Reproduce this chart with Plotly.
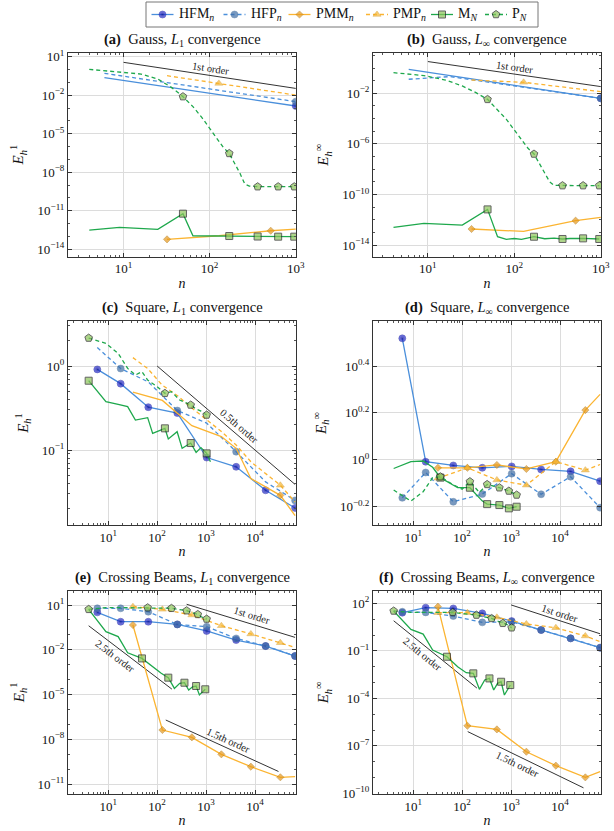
import math

import plotly.graph_objects as go
from plotly.subplots import make_subplots

# Problem sizes n and log10 of the error E_h.
hf_n = [6, 18, 66, 258, 1026, 4098, 16386, 65538]
pm_n = [32, 128, 512, 2048, 8192, 32768, 65536]
all6 = [0, 1, 2, 3, 4, 5]

# (a) Gauss, L1
a_ref_n = [10, 1000]
a_ref_lg = [0.56, -1.47]
a_hfm_n = [6, 1000]
a_hfm_lg = [-0.635, -2.84]
a_hfp_n = [6, 1000]
a_hfp_lg = [-0.30, -2.50]
a_pmm_n = [32, 128, 512, 1000]
a_pmm_lg = [-13.22, -12.94, -12.55, -12.42]
a_pmp_n = [32, 128, 1000]
a_pmp_lg = [-0.48, -1.08, -1.99]
a_m_n = [4, 9, 25, 49, 64, 169, 361, 625, 961]
a_m_lg = [-12.50, -12.29, -12.44, -11.22, -12.94, -12.96, -13.00, -13.01, -13.01]
a_p_n = [4, 9, 16, 25, 36, 49, 64, 81, 100, 121, 144, 169, 196, 225, 256, 289, 361, 625, 961]
a_p_lg = [0.01, -0.17, -0.35, -0.74, -1.39, -2.11, -2.89, -3.72, -4.58, -5.36,
          -6.06, -6.53, -7.30, -8.08, -8.91, -9.07, -9.12, -9.12, -9.12]

# (b) Gauss, Linf
b_ref_n = [10, 1000]
b_ref_lg = [0.51, -1.47]
b_hfm_n = [6, 1000]
b_hfm_lg = [-0.10, -2.40]
b_hfp_n = [6, 18, 1000]
b_hfp_lg = [-0.89, -0.68, -2.40]
b_pmm_n = [32, 128, 512, 1000]
b_pmm_lg = [-12.73, -12.92, -12.07, -11.81]
b_pmp_n = [32, 128, 1000]
b_pmp_lg = [-0.95, -1.13, -1.87]
b_m_n = [4, 9, 25, 49, 64, 81, 100, 121, 169, 225, 289, 361, 441, 625, 961]
b_m_lg = [-12.60, -12.28, -12.42, -11.18, -13.34, -13.55, -13.48, -13.55, -13.34,
          -13.50, -13.45, -13.52, -13.48, -13.47, -13.52]
b_p_n = a_p_n
b_p_lg = [-0.37, -0.60, -0.95, -1.42, -1.95, -2.48, -3.32, -4.06, -4.90, -5.69,
          -6.35, -6.80, -7.54, -8.33, -8.99, -9.28, -9.30, -9.30, -9.30]

# (c) Square, L1
c_ref_n = [100, 65536]
c_ref_lg = [0.0, -1.41]
c_hfm_lg = [-0.04, -0.21, -0.49, -0.56, -1.09, -1.20, -1.48, -1.69]
c_hfp_lg = [0.22, -0.03, -0.19, -0.53, -0.68, -1.02, -1.38, -1.60]
c_pmm_n = [32, 128, 512, 2048, 4096, 8192, 32768, 65536]
c_pmm_lg = [-0.31, -0.41, -0.71, -0.84, -0.98, -1.34, -1.54, -1.78]
c_pmp_n = [32, 64, 128, 256, 512, 2048, 4096, 8192, 32768, 65536]
c_pmp_lg = [0.10, -0.03, -0.23, -0.35, -0.50, -0.78, -0.94, -1.14, -1.42, -1.62]
c_m_n = [4, 9, 16, 25, 36, 64, 81, 144, 169, 256, 324, 484, 625, 784, 1024, 1225]
c_m_lg = [-0.175, -0.425, -0.456, -0.484, -0.643, -0.615, -0.802, -0.742, -0.869,
          -0.782, -0.980, -0.917, -1.028, -0.972, -1.040, -1.139]
c_p_n = [4, 9, 16, 25, 36, 49, 64, 100, 144, 196, 289, 484, 625, 784, 1024]
c_p_lg = [0.333, 0.27, 0.151, -0.028, -0.107, -0.067, -0.167, -0.246, -0.325,
          -0.306, -0.405, -0.464, -0.512, -0.536, -0.583]

# (d) Square, Linf
d_hfm_lg = [0.518, -0.008, -0.024, -0.034, -0.028, -0.041, -0.049, -0.091]
d_hfp_lg = [-0.162, -0.054, -0.179, -0.146, -0.059, -0.147, -0.072, -0.204]
d_pmm_lg = [-0.034, -0.034, -0.022, -0.039, -0.008, 0.212, 0.279]
d_pmp_lg = [-0.079, -0.034, -0.086, -0.108, -0.008, -0.044, -0.020]
d_m_n = [4, 9, 16, 25, 36, 49, 81, 144, 256, 324, 576, 900, 1296]
d_m_lg = [-0.037, -0.008, -0.005, -0.032, -0.076, -0.093, -0.119, -0.119, -0.175,
          -0.189, -0.193, -0.207, -0.200]
d_p_n = [4, 9, 16, 25, 36, 64, 100, 144, 225, 324, 576, 900, 1296]
d_p_lg = [-0.129, -0.176, -0.136, -0.076, -0.072, -0.105, -0.125, -0.093, -0.139,
          -0.105, -0.119, -0.133, -0.150]

# (e) Crossing beams, L1
e_r1_n = [400, 65536]
e_r1_lg = [1.05, -1.17]
e_r2_n = [4, 200]
e_r2_lg = [-0.39, -4.64]
e_r3_n = [150, 30000]
e_r3_lg = [-6.71, -10.16]
e_hfm_lg = [0.51, -0.12, -0.12, -0.30, -0.74, -1.35, -1.75, -2.42]
e_hfp_lg = [0.78, 0.78, 0.55, -0.30, -0.45, -1.24, -1.75, -2.42]
e_pmm_lg = [-0.34, -7.38, -7.87, -9.01, -9.84, -10.55, -10.51]
e_pmp_lg = [0.89, 0.71, 0.33, -0.39, -0.94, -1.53, -1.84]
e_m_n = [4, 9, 16, 25, 49, 81, 121, 169, 225, 289, 361, 441, 529, 625, 729, 961]
e_m_lg = [0.71, -0.79, -1.12, -2.20, -2.58, -3.13, -3.58, -3.87, -4.59, -4.25,
          -4.21, -4.70, -4.48, -4.43, -5.03, -4.65]
e_p_n = [4, 9, 25, 64, 196, 400, 676, 784, 1024]
e_p_lg = [0.71, 0.82, 0.82, 0.82, 0.78, 0.62, 0.37, 0.22, 0.06]

# (f) Crossing beams, Linf
f_r1_n = [1000, 65536]
f_r1_lg = [1.90, 0.08]
f_r2_n = [4, 200]
f_r2_lg = [0.90, -3.35]
f_r3_n = [130, 30000]
f_r3_lg = [-6.10, -9.65]
f_hfm_lg = [1.41, 1.73, 1.68, 1.37, 0.88, 0.32, -0.21, -0.80]
f_hfp_lg = [1.47, 1.43, 1.20, 0.80, 0.83, 0.32, -0.21, -0.80]
f_pmm_lg = [1.79, -5.73, -5.96, -7.37, -8.25, -8.99, -8.63]
f_pmp_lg = [1.41, 1.41, 1.12, 0.70, 0.46, -0.06, -0.42]
f_m_lg = [1.52, 0.36, 0.06, -0.95, -1.37, -2.00, -2.38, -2.42, -3.43, -2.84,
          -2.74, -3.47, -3.05, -2.95, -3.79, -3.16]
f_p_lg = [1.52, 1.43, 1.43, 1.43, 1.26, 1.05, 0.74, 0.70, 0.46]

FONT = "Liberation Serif"
W, H = 614, 831
BLUE, ORANGE, GREEN = "#4a8fdb", "#fbb431", "#1ea84c"
LIGHT_GREEN = "#8dc45a"
DASH = "4px,3px"

STYLE = {
    "hfm": dict(name="HFM<sub><i>n</i></sub>", color=BLUE, dash="solid",
                marker=dict(symbol="circle", size=7, color="#3a44e6",
                            gradient=dict(type="radial", color="#00008c"),
                            line=dict(color="#000080", width=0.5))),
    "hfp": dict(name="HFP<sub><i>n</i></sub>", color=BLUE, dash=DASH,
                marker=dict(symbol="circle", size=7, color="#3f6ea6",
                            line=dict(color="#36608f", width=0.5))),
    "pmm": dict(name="PMM<sub><i>n</i></sub>", color=ORANGE, dash="solid",
                marker=dict(symbol="diamond", size=5.5, color="#e89a1c",
                            line=dict(color="#a86f0c", width=0.6))),
    "pmp": dict(name="PMP<sub><i>n</i></sub>", color=ORANGE, dash=DASH,
                marker=dict(symbol="triangle-up", size=7, color="#f7b733",
                            line=dict(color="#c98d18", width=0.5))),
    "m": dict(name="M<sub><i>N</i></sub>", color=GREEN, dash="solid",
              marker=dict(symbol="square", size=7, color=LIGHT_GREEN,
                          line=dict(color="#222", width=1))),
    "p": dict(name="P<sub><i>N</i></sub>", color=GREEN, dash=DASH,
              marker=dict(symbol="pentagon", size=8, color=LIGHT_GREEN,
                          line=dict(color="#222", width=1))),
}
ORDER = ["hfm", "hfp", "pmm", "pmp", "m", "p"]

XDOM = [[68 / W, 296 / W], [373 / W, 601 / W]]
YDOM = [[1 - 256.7 / H, 1 - 52.7 / H], [1 - 525 / H, 1 - 321 / H], [1 - 794 / H, 1 - 590.7 / H]]

fig = make_subplots(rows=3, cols=2)


def add_series(row, col, key, n, lg, marks):
    st = STYLE[key]
    m = st["marker"]
    sizes = [m["size"] if i in marks else 0 for i in range(len(n))]
    widths = [m["line"]["width"] if i in marks else 0 for i in range(len(n))]
    marker = dict(m)
    marker["size"] = sizes
    marker["line"] = dict(color=m["line"]["color"], width=widths)
    fig.add_trace(go.Scatter(
        x=n, y=[10 ** v for v in lg], mode="lines+markers",
        line=dict(color=st["color"], width=1.3, dash=st["dash"]),
        marker=marker, showlegend=False, hoverinfo="skip"), row=row, col=col)


def add_ref(row, col, n, lg):
    fig.add_trace(go.Scatter(
        x=n, y=[10 ** v for v in lg], mode="lines",
        line=dict(color="#333", width=1), showlegend=False, hoverinfo="skip"),
        row=row, col=col)


def ref_label(row, col, n, lg, text, t, d, xr, yr):
    axn = (row - 1) * 2 + col
    kx = (XDOM[col - 1][1] - XDOM[col - 1][0]) * W / (xr[1] - xr[0])
    ky = (YDOM[row - 1][1] - YDOM[row - 1][0]) * H / (yr[1] - yr[0])
    x0, x1 = math.log10(n[0]), math.log10(n[1])
    slope = (lg[1] - lg[0]) / (x1 - x0)
    th = math.atan(-slope * ky / kx)
    ref = "" if axn == 1 else str(axn)
    fig.add_annotation(
        x=x0 + t * (x1 - x0), y=lg[0] + t * (lg[1] - lg[0]),
        xref="x" + ref, yref="y" + ref, text=text, showarrow=False,
        textangle=math.degrees(th), xshift=d * math.sin(th), yshift=d * math.cos(th),
        font=dict(family=FONT, size=10.5, color="#222"))


def sup(v):
    s = ("%g" % v).replace("-", "\u2212")
    return "10<sup>" + s + "</sup>"


PANELS = [
    # row, col, title, ylabel, xrange, yrange, ytick exps
    (1, 1, "<b>(a)</b>  Gauss, <i>L</i><sub>1</sub> convergence", "1",
     [0.355, 3.003], [-14.57, 1.31], [1, -2, -5, -8, -11, -14]),
    (1, 2, "<b>(b)</b>  Gauss, <i>L</i><sub>\u221e</sub> convergence", "\u221e",
     [0.365, 3.003], [-14.92, 1.21], [-2, -6, -10, -14]),
    (2, 1, "<b>(c)</b>  Square, <i>L</i><sub>1</sub> convergence", "1",
     [0.18, 4.835], [-1.893, 0.536], [0, -1]),
    (2, 2, "<b>(d)</b>  Square, <i>L</i><sub>\u221e</sub> convergence", "\u221e",
     [0.18, 4.835], [-0.278, 0.592], [0.4, 0.2, 0, -0.2]),
    (3, 1, "<b>(e)</b>  Crossing Beams, <i>L</i><sub>1</sub> convergence", "1",
     [0.18, 4.835], [-11.67, 1.96], [1, -2, -5, -8, -11]),
    (3, 2, "<b>(f)</b>  Crossing Beams, <i>L</i><sub>\u221e</sub> convergence", "\u221e",
     [0.18, 4.835], [-10.04, 2.8], [2, -1, -4, -7, -10]),
]

# reference slopes
add_ref(1, 1, a_ref_n, a_ref_lg)
add_ref(1, 2, b_ref_n, b_ref_lg)
add_ref(2, 1, c_ref_n, c_ref_lg)
for rn, rl in [(e_r1_n, e_r1_lg), (e_r2_n, e_r2_lg), (e_r3_n, e_r3_lg)]:
    add_ref(3, 1, rn, rl)
for rn, rl in [(f_r1_n, f_r1_lg), (f_r2_n, f_r2_lg), (f_r3_n, f_r3_lg)]:
    add_ref(3, 2, rn, rl)

# (a)
add_series(1, 1, "hfm", a_hfm_n, a_hfm_lg, [1])
add_series(1, 1, "hfp", a_hfp_n, a_hfp_lg, [1])
add_series(1, 1, "pmm", a_pmm_n, a_pmm_lg, [0, 2])
add_series(1, 1, "pmp", a_pmp_n, a_pmp_lg, [1])
add_series(1, 1, "m", a_m_n, a_m_lg, [3, 5, 6, 7, 8])
add_series(1, 1, "p", a_p_n, a_p_lg, [5, 11, 16, 17, 18])
# (b)
add_series(1, 2, "hfm", b_hfm_n, b_hfm_lg, [1])
add_series(1, 2, "hfp", b_hfp_n, b_hfp_lg, [2])
add_series(1, 2, "pmm", b_pmm_n, b_pmm_lg, [0, 2])
add_series(1, 2, "pmp", b_pmp_n, b_pmp_lg, [1])
add_series(1, 2, "m", b_m_n, b_m_lg, [3, 8, 11, 13, 14])
add_series(1, 2, "p", b_p_n, b_p_lg, [5, 11, 16, 17, 18])
# (c)
add_series(2, 1, "hfm", hf_n, c_hfm_lg, list(range(8)))
add_series(2, 1, "hfp", hf_n, c_hfp_lg, [1, 3, 5, 7])
add_series(2, 1, "pmm", c_pmm_n, c_pmm_lg, [6])
add_series(2, 1, "pmp", c_pmp_n, c_pmp_lg, [8])
add_series(2, 1, "m", c_m_n, c_m_lg, [0, 7, 11, 14])
add_series(2, 1, "p", c_p_n, c_p_lg, [0, 8, 11, 14])
# (d)
add_series(2, 2, "hfm", hf_n, d_hfm_lg, list(range(8)))
add_series(2, 2, "hfp", hf_n, d_hfp_lg, list(range(8)))
add_series(2, 2, "pmm", pm_n, d_pmm_lg, all6)
add_series(2, 2, "pmp", pm_n, d_pmp_lg, all6)
add_series(2, 2, "m", d_m_n, d_m_lg, [4, 7, 9, 10, 11, 12])
add_series(2, 2, "p", d_p_n, d_p_lg, [4, 7, 9, 10, 11, 12])
# (e)
add_series(3, 1, "hfm", hf_n, e_hfm_lg, list(range(8)))
add_series(3, 1, "hfp", hf_n, e_hfp_lg, list(range(8)))
add_series(3, 1, "pmm", pm_n, e_pmm_lg, all6)
add_series(3, 1, "pmp", pm_n, e_pmp_lg, all6)
add_series(3, 1, "m", e_m_n, e_m_lg, [4, 7, 10, 13, 15])
add_series(3, 1, "p", e_p_n, e_p_lg, [0, 3, 4, 5, 6, 8])
# (f)
add_series(3, 2, "hfm", hf_n, f_hfm_lg, list(range(8)))
add_series(3, 2, "hfp", hf_n, f_hfp_lg, list(range(8)))
add_series(3, 2, "pmm", pm_n, f_pmm_lg, all6)
add_series(3, 2, "pmp", pm_n, f_pmp_lg, all6)
add_series(3, 2, "m", e_m_n, f_m_lg, [4, 7, 10, 13, 15])
add_series(3, 2, "p", e_p_n, f_p_lg, [0, 3, 4, 5, 6, 8])

minor_x = [k * 10 ** e for e in range(0, 5) for k in range(2, 10)]
for row, col, title, sup_lbl, xr, yr, yt in PANELS:
    fig.update_xaxes(
        type="log", range=xr, domain=XDOM[col - 1],
        tickvals=[10 ** e for e in range(1, 5)], ticktext=[sup(e) for e in range(1, 5)],
        ticks="inside", ticklen=4, tickcolor="#333", mirror="allticks",
        showline=True, linecolor="#333", linewidth=1,
        showgrid=True, gridcolor="#dcdcdc", gridwidth=1, zeroline=False,
        minor=dict(tickvals=minor_x, ticks="inside", ticklen=2, tickcolor="#555", showgrid=False),
        tickfont=dict(family=FONT, size=13, color="#111"),
        title=dict(text="<i>n</i>", font=dict(family=FONT, size=14, color="#111"), standoff=2),
        automargin=False, row=row, col=col)
    if row == 2 and col == 1:
        yminor = [k * 10 ** e for e in range(-2, 1) for k in range(2, 10)]
    elif row == 2 and col == 2:
        yminor = []
    else:
        yminor = [10 ** e for e in range(-15, 3)]
    fig.update_yaxes(
        type="log", range=yr, domain=YDOM[row - 1],
        tickvals=[10 ** e for e in yt], ticktext=[sup(e) for e in yt],
        ticks="inside", ticklen=4, tickcolor="#333", mirror="allticks",
        showline=True, linecolor="#333", linewidth=1,
        showgrid=True, gridcolor="#dcdcdc", gridwidth=1, zeroline=False,
        minor=dict(tickvals=yminor, ticks="inside", ticklen=2, tickcolor="#555", showgrid=False),
        tickfont=dict(family=FONT, size=13, color="#111"),
        title=dict(text="<i>E</i><sub><i>h</i></sub><sup>" + sup_lbl + "</sup>",
                   font=dict(family=FONT, size=15, color="#111"), standoff=9),
        automargin=False, row=row, col=col)
    fig.add_annotation(
        x=sum(XDOM[col - 1]) / 2, y=YDOM[row - 1][1], xref="paper", yref="paper",
        xanchor="center", yanchor="bottom", yshift=2, showarrow=False, text=title,
        font=dict(family=FONT, size=14.5, color="#111"))

# slope labels
ref_label(1, 1, a_ref_n, a_ref_lg, "1st order", 0.5, 7, PANELS[0][4], PANELS[0][5])
ref_label(1, 2, b_ref_n, b_ref_lg, "1st order", 0.5, 7, PANELS[1][4], PANELS[1][5])
ref_label(2, 1, c_ref_n, c_ref_lg, "0.5th order", 0.56, 8, PANELS[2][4], PANELS[2][5])
ref_label(3, 1, e_r1_n, e_r1_lg, "1st order", 0.58, 8, PANELS[4][4], PANELS[4][5])
ref_label(3, 1, e_r2_n, e_r2_lg, "2.5th order", 0.38, -8, PANELS[4][4], PANELS[4][5])
ref_label(3, 1, e_r3_n, e_r3_lg, "1.5th order", 0.53, 7, PANELS[4][4], PANELS[4][5])
ref_label(3, 2, f_r1_n, f_r1_lg, "1st order", 0.52, 7, PANELS[5][4], PANELS[5][5])
ref_label(3, 2, f_r2_n, f_r2_lg, "2.5th order", 0.41, -8, PANELS[5][4], PANELS[5][5])
ref_label(3, 2, f_r3_n, f_r3_lg, "1.5th order", 0.46, -8, PANELS[5][4], PANELS[5][5])

# legend box drawn on its own hidden pixel-scaled axis
LEG_X0, LEG_X1, LEG_Y0, LEG_Y1 = 146, 538, 2, 27
leg_starts = [5.5, 77.5, 142.5, 220, 285, 339]
fig.update_layout(
    xaxis7=dict(domain=[LEG_X0 / W, LEG_X1 / W], range=[0, LEG_X1 - LEG_X0],
                visible=False, fixedrange=True, anchor="y7"),
    yaxis7=dict(domain=[1 - LEG_Y1 / H, 1 - LEG_Y0 / H], range=[0, LEG_Y1 - LEG_Y0],
                visible=False, fixedrange=True, anchor="x7"),
)
fig.add_shape(type="rect", xref="paper", yref="paper",
              x0=LEG_X0 / W, x1=LEG_X1 / W, y0=1 - LEG_Y1 / H, y1=1 - LEG_Y0 / H,
              line=dict(color="#777", width=1), fillcolor="white", layer="below")
ym = (LEG_Y1 - LEG_Y0) / 2
for key, s in zip(ORDER, leg_starts):
    st = STYLE[key]
    fig.add_trace(go.Scatter(
        x=[s, s + 11, s + 22], y=[ym, ym, ym], xaxis="x7", yaxis="y7",
        mode="lines+markers", showlegend=False, hoverinfo="skip",
        line=dict(color=st["color"], width=1.3, dash=st["dash"]),
        marker=dict(st["marker"], size=[0, st["marker"]["size"], 0],
                    line=dict(color=st["marker"]["line"]["color"],
                              width=[0, st["marker"]["line"]["width"], 0]))))
    fig.add_annotation(x=s + 25, y=ym, xref="x7", yref="y7", xanchor="left",
                       yanchor="middle", showarrow=False, text=st["name"],
                       font=dict(family=FONT, size=14, color="#111"))

fig.update_layout(
    width=W, height=H, margin=dict(l=0, r=0, t=0, b=0),
    paper_bgcolor="white", plot_bgcolor="white", showlegend=False,
    font=dict(family=FONT, size=13, color="#111"),
)

fig.write_html("out.html", config={"displayModeBar": False},
               post_script="document.body.style.margin='0';")
